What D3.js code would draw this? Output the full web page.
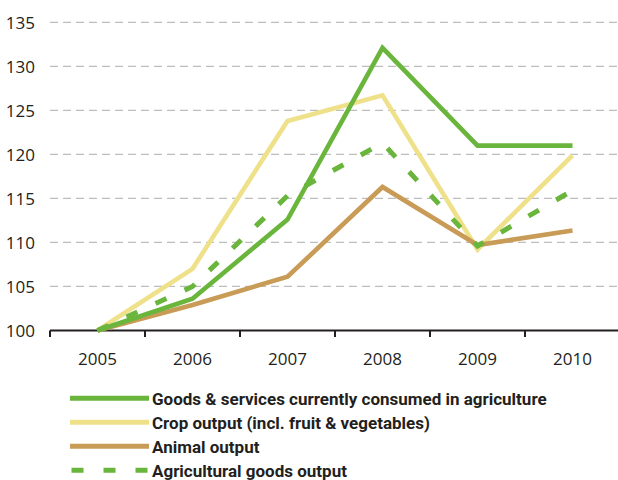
<!DOCTYPE html>
<html>
<head>
<meta charset="utf-8">
<script src="https://cdn.jsdelivr.net/npm/d3@7"></script>
<style>
  html, body { margin: 0; padding: 0; background: #fff; }
  svg { display: block; }
  .axis-label { font-family: "Open Sans", "Noto Sans", sans-serif; font-size: 17px; fill: #231f20; }
  .legend-label { font-family: Roboto, "Open Sans", sans-serif; font-weight: 700; font-size: 17px; fill: #231f20; }
</style>
</head>
<body>
<svg id="chart" width="618" height="480"></svg>
<script>
// Price indices, 2005 = 100
const years = ["2005", "2006", "2007", "2008", "2009", "2010"];
const goodsServices = [100, 103.6, 112.6, 132.1, 121.0, 121.0];
const cropOutput    = [100, 107.0, 123.8, 126.7, 109.2, 119.9];
const animalOutput  = [100, 102.9, 106.1, 116.3, 109.7, 111.35];
const agriGoods     = [100, 105.0, 115.3, 121.3, 109.6, 115.9];
const yTicks = [100, 105, 110, 115, 120, 125, 130, 135];

const seriesNames = [
  "Goods & services currently consumed in agriculture",
  "Crop output (incl. fruit & vegetables)",
  "Animal output",
  "Agricultural goods output"
];

const series = [
  { name: seriesNames[0], values: goodsServices, color: "#6ab53c", dash: null },
  { name: seriesNames[1], values: cropOutput,    color: "#efe08a", dash: null },
  { name: seriesNames[2], values: animalOutput,  color: "#c89b56", dash: null },
  { name: seriesNames[3], values: agriGoods,     color: "#6ab53c", dash: "12,20" }
];

const svg = d3.select("#chart");
const plotLeft = 50, plotRight = 620, plotTop = 22.3, plotBottom = 330.5;

const x = d3.scaleBand().domain(years).range([plotLeft, plotRight]).padding(0);
const y = d3.scaleLinear().domain([100, 135]).range([plotBottom, plotTop]);
const cx = d => x(d) + x.bandwidth() / 2;

// horizontal dashed gridlines
svg.append("g")
  .selectAll("line")
  .data(yTicks.filter(t => t > 100))
  .join("line")
  .attr("x1", plotLeft).attr("x2", 618)
  .attr("y1", d => y(d)).attr("y2", d => y(d))
  .attr("stroke", "#bdbdbd")
  .attr("stroke-width", 1.3)
  .attr("stroke-dasharray", "8,5");

// y tick labels
const yAxis = d3.axisLeft(y).tickValues(yTicks).tickSize(0).tickPadding(15);
const gy = svg.append("g").attr("transform", `translate(${plotLeft},0)`).call(yAxis);
gy.select(".domain").remove();
gy.selectAll("text").attr("class", "axis-label").attr("font-size", null).attr("font-family", null)
  .attr("dy", "0.37em");

// x axis: baseline, tick marks at category boundaries, labels in the middle
const xAxis = d3.axisBottom(x).tickSize(0).tickPadding(22);
const gx = svg.append("g").attr("transform", `translate(0,${plotBottom})`).call(xAxis);
gx.select(".domain").remove();
gx.selectAll("text").attr("class", "axis-label").attr("font-size", null).attr("font-family", null);

gx.append("line")
  .attr("x1", plotLeft).attr("x2", 618).attr("y1", 0).attr("y2", 0)
  .attr("stroke", "#231f20").attr("stroke-width", 2.2);
gx.selectAll(".bound")
  .data(years)
  .join("line")
  .attr("class", "bound")
  .attr("x1", d => x(d)).attr("x2", d => x(d))
  .attr("y1", 0).attr("y2", 6.5)
  .attr("stroke", "#231f20").attr("stroke-width", 2);

// series lines (drawn back to front)
const line = d3.line().x((d, i) => cx(years[i])).y(d => y(d));
const drawOrder = [1, 2, 0, 3];
svg.append("g")
  .selectAll("path")
  .data(drawOrder.map(i => series[i]))
  .join("path")
  .attr("d", s => line(s.values))
  .attr("fill", "none")
  .attr("stroke", s => s.color)
  .attr("stroke-width", s => s.dash ? 5 : 4.6)
  .attr("stroke-dasharray", s => s.dash)
  .attr("stroke-linejoin", "miter");

// legend
const legend = svg.append("g");
const rowY = [398.3, 422.3, 446.2, 470.2];
series.forEach((s, i) => {
  const g = legend.append("g").attr("transform", `translate(0,${rowY[i]})`);
  g.append("line")
    .attr("x1", s.dash ? 71.5 : 70).attr("x2", 149)
    .attr("y1", 0).attr("y2", 0)
    .attr("stroke", s.color)
    .attr("stroke-width", 5)
    .attr("stroke-dasharray", s.dash);
  g.append("text")
    .attr("class", "legend-label")
    .attr("x", 152)
    .attr("y", 0)
    .attr("dy", "0.38em")
    .text(s.name);
});
</script>
</body>
</html>
